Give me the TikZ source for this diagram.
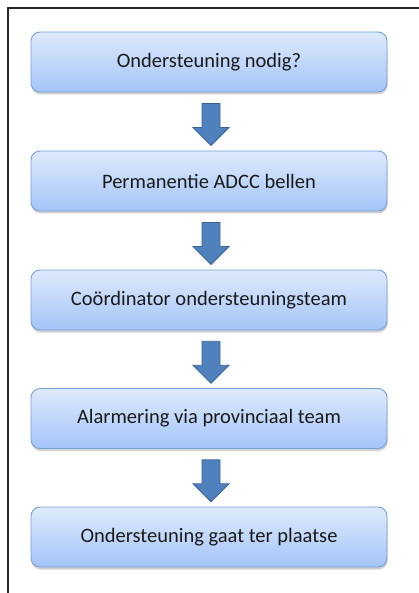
\documentclass[tikz,border=0pt]{standalone}
\usepackage{fontspec}
\setmainfont{Carlito}
\usetikzlibrary{calc,shadows}
\definecolor{boxtop}{HTML}{DEEAFC}
\definecolor{boxbottom}{HTML}{A4C4F8}
\definecolor{boxline}{HTML}{78A0D8}
\definecolor{arrowfill}{HTML}{4F81BD}
\definecolor{arrowline}{HTML}{3A6699}
\definecolor{textdark}{HTML}{1A1A1A}
\tikzset{
  stepbox/.style={rounded corners=9pt, minimum width=356pt, minimum height=60pt,
    top color=boxtop, bottom color=boxbottom, draw=boxline, line width=0.9pt,
    font=\fontsize{20.5}{24}\selectfont, text=textdark,
    drop shadow={shadow xshift=0.5pt, shadow yshift=-2.5pt, fill=black, opacity=0.18}},
  blockarrow/.pic={
    \draw[fill=arrowfill, draw=arrowline, line width=0.8pt, line join=miter]
      (-9,-21) -- (9,-21) -- (9,3) -- (18,3) -- (0,21) -- (-18,3) -- (-9,3) -- cycle;
  },
  framestroke/.style={line width=1.8pt, draw=black!85}
}
\begin{document}
\begin{tikzpicture}[x=1pt, y=-1pt]
  \useasboundingbox (0,0) rectangle (419,593);
  % open frame: top and left edges only
  \draw[framestroke] (8,593) -- (8,8) -- (419,8);

  \node[stepbox] (b1) at (209,62)    {Ondersteuning nodig?};
  \node[stepbox] (b2) at (209,181)   {Permanentie ADCC bellen};
  \node[stepbox] (b3) at (209,300)   {Coördinator ondersteuningsteam};
  \node[stepbox] (b4) at (209,418.5) {Alarmering via provinciaal team};
  \node[stepbox] (b5) at (209,537)   {Ondersteuning gaat ter plaatse};

  % block arrows between consecutive steps
  \foreach \a/\b in {b1/b2, b2/b3, b3/b4, b4/b5}
    \pic at ($($(\a.south)!0.5!(\b.north)$)+(2,3)$) {blockarrow};
\end{tikzpicture}
\end{document}
